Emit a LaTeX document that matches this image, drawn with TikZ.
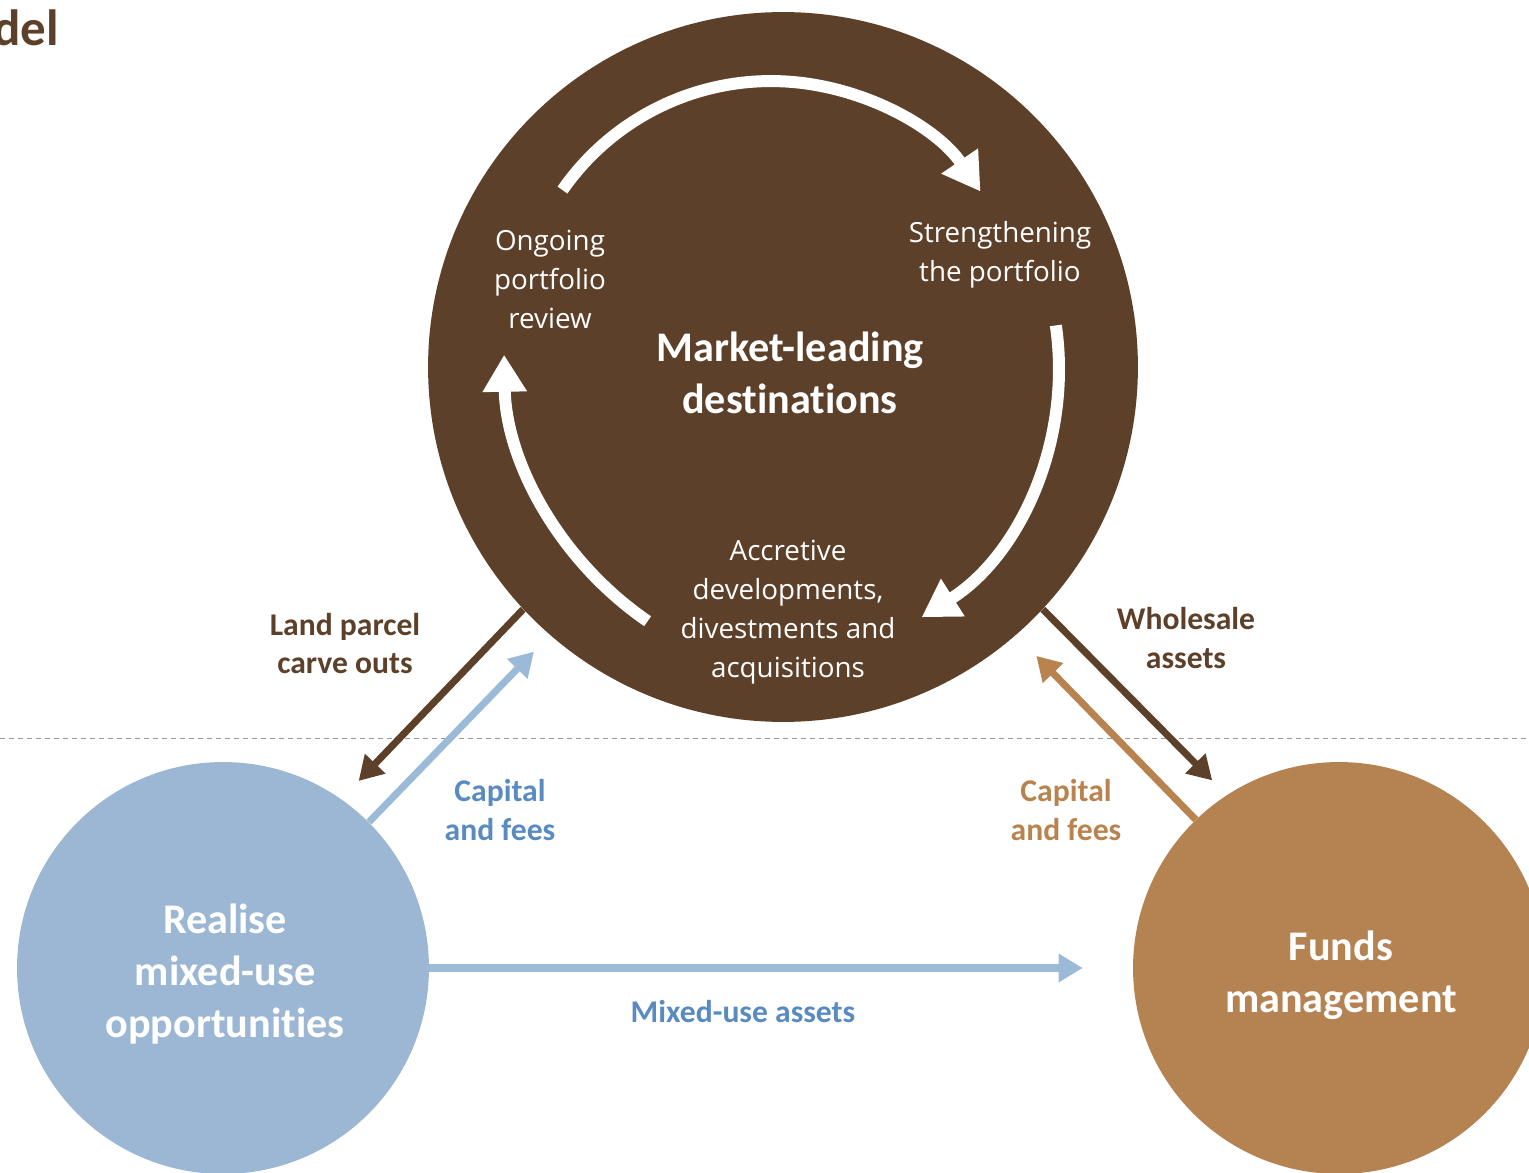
\documentclass[tikz,border=0pt]{standalone}
\usepackage{fontspec}
\setmainfont{Open Sans}
\newfontfamily\labelfont[Ligatures={NoCommon}, RawFeature={-liga;-dlig}]{Carlito}
\usetikzlibrary{arrows.meta}

\definecolor{bark}{HTML}{5D4029}
\definecolor{skyfill}{HTML}{9BB7D3}
\definecolor{skyline}{HTML}{9BBAD8}
\definecolor{skytext}{HTML}{5A8BC0}
\definecolor{clay}{HTML}{B58252}
\definecolor{claytext}{HTML}{B8834F}
\definecolor{dashgrey}{HTML}{9A9A9A}

\begin{document}
\begin{tikzpicture}[x=0.02cm,y=0.02cm,
  hub/.style={circle, fill=#1, draw=none, inner sep=0},
  cycletext/.style={text=white, align=center, inner sep=0,
    font=\fontsize{15.8}{22.2}\selectfont},
  bigtext/.style={text=white, align=center, inner sep=0,
    font=\labelfont\bfseries\fontsize{24}{29.5}\selectfont},
  flowtext/.style={text=#1, align=center, inner sep=0,
    font=\labelfont\bfseries\fontsize{18}{22}\selectfont},
  cyclearrow/.style={white, line width=0.24cm,
    -{Triangle[length=0.74cm,width=0.84cm]}},
  flow/.style={draw=#1, line width=0.14cm,
    -{Triangle[length=0.48cm,width=0.54cm,fill=#1]}},
]
\useasboundingbox (0,0) rectangle (1529,-1173);

% heading fragment
\node[anchor=base west, inner sep=0, text=bark,
      font=\labelfont\bfseries\fontsize{29}{34}\selectfont] (heading) at (-7,-45) {del};

% separator
\coordinate (sepL) at (0,-738);
\coordinate (sepR) at (1529,-738);
\draw[dashgrey, line width=0.02cm, dash pattern=on 0.1cm off 0.08cm] (sepL) -- (sepR);

% the three hubs
\node[hub=bark, minimum size=14.2cm] (mkt) at (783,-367) {};
\node[hub=skyfill, minimum size=8.24cm] (rmu) at (223,-968) {};
\node[hub=clay, minimum size=8.24cm] (fm) at (1339,-968) {};

% cycle inside the main hub
\coordinate (cTop) at (771,-335);
\coordinate (cRight) at (764,-368);
\coordinate (cLeft) at (834,-349);
\draw[cyclearrow] (cTop) ++(145.2:5.08cm) arc[start angle=145.2, end angle=34.4, radius=5.08cm];
\draw[cyclearrow] (cRight) ++(8.3:5.9cm) arc[start angle=8.3, end angle=-57.7, radius=5.9cm];
\draw[cyclearrow] (cLeft) ++(235.6:6.6cm) arc[start angle=235.6, end angle=181, radius=6.6cm];

% texts of the main hub
\node[bigtext] (mktlabel) at (790,-373) {Market-leading\\destinations};
\node[cycletext] (review) at (550,-279) {Ongoing\\portfolio\\review};
\node[cycletext] (strengthen) at (1000,-255) {Strengthening\\the portfolio};
\node[cycletext] (accretive) at (788,-612) {Accretive\\developments,\\divestments and\\acquisitions};

% texts of the lower hubs
\node[bigtext] (rmulabel) at (225,-974) {Realise\\mixed-use\\opportunities};
\node[bigtext] (fmlabel) at (1341,-975) {Funds\\management};

% flows between hubs
\draw[flow=bark, shorten >=0.5cm] (mkt.223.5) -- (rmu.55.7);
\draw[flow=skyline, shorten >=0.46cm] (rmu.45) -- (mkt.229.7);
\draw[flow=bark, shorten >=0.41cm] (mkt.-43.6) -- (fm.123.7);
\draw[flow=claytext, shorten >=0.58cm] (fm.134.6) -- (mkt.-49.9);
\draw[flow=skyline, line width=0.16cm, shorten >=1cm] (rmu.east) -- (fm.west);

% flow labels
\node[flowtext=bark] (landlabel) at (345,-643.5) {Land parcel\\carve outs};
\node[flowtext=bark] (wholesale) at (1186,-638) {Wholesale\\assets};
\node[flowtext=skytext] (capleft) at (500,-810) {Capital\\and fees};
\node[flowtext=claytext] (capright) at (1066,-810) {Capital\\and fees};
\node[flowtext=skytext] (mixedassets) at (743,-1012) {Mixed-use assets};
\end{tikzpicture}
\end{document}
